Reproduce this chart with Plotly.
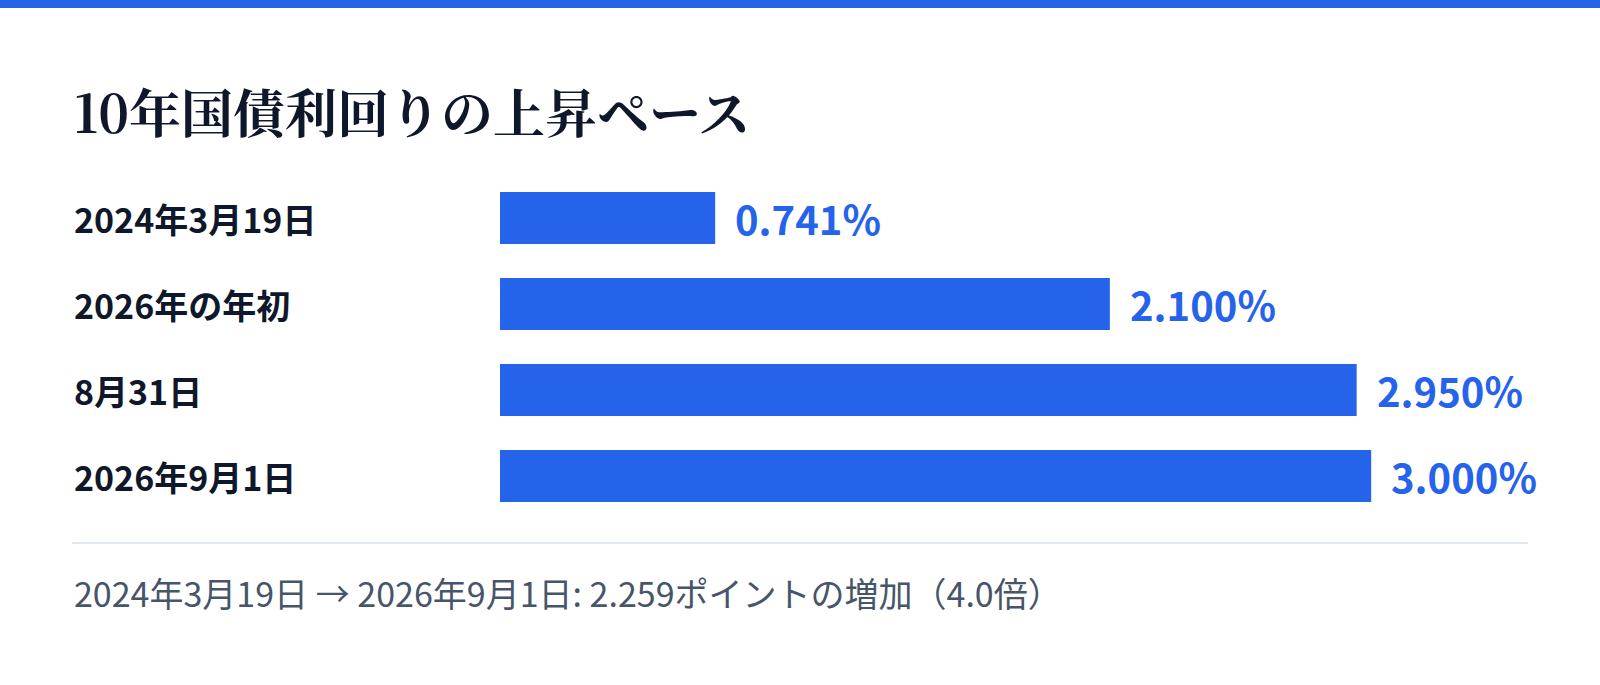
import plotly.graph_objects as go

# Data
dates = ['2024年3月19日', '2026年の年初', '8月31日', '2026年9月1日']
yields = [0.741, 2.100, 2.950, 3.000]
value_labels = ['0.741%', '2.100%', '2.950%', '3.000%']

title_text = '10年国債利回りの上昇ペース'
start_label = '2024年3月19日'
end_label = '2026年9月1日'

blue = '#2563eb'
navy = '#0f172a'
slate = '#475569'
sans = 'Noto Sans CJK JP, Noto Sans, sans-serif'

# Figure geometry (pixels)
W_FIG, H_FIG = 1600, 685
L, R, T, B = 500, 1528, 175, 519


def px_x(x):
    return (x - L) / (R - L)


def px_y(y):
    return (B - y) / (B - T)


fig = go.Figure()

fig.add_trace(go.Bar(
    x=yields,
    y=dates,
    orientation='h',
    marker=dict(color=blue, line=dict(width=0)),
    hoverinfo='skip',
))

annotations = []

# Category labels, left aligned at the card padding
for d in dates:
    annotations.append(dict(
        x=px_x(72), xref='paper', y=d, yref='y',
        text=d, showarrow=False, xanchor='left', yanchor='middle',
        font=dict(family=sans, size=34, color=navy, weight=700),
    ))

# Value labels just past each bar
for v, d, lab in zip(yields, dates, value_labels):
    annotations.append(dict(
        x=v, xref='x', y=d, yref='y',
        text=lab, showarrow=False, xanchor='left', yanchor='middle',
        xshift=18,
        font=dict(family=sans, size=40, color=blue, weight=700),
    ))

# Title
annotations.append(dict(
    x=px_x(72), xref='paper', y=px_y(110), yref='paper',
    text=title_text, showarrow=False, xanchor='left', yanchor='middle',
    font=dict(family='Noto Serif CJK JP, Liberation Serif, Noto Sans CJK JP, serif',
              size=52, color=navy, weight=700),
))

# Footer summary
diff = yields[-1] - yields[0]
ratio = yields[-1] / yields[0]
footer = f'{start_label} → {end_label}: {diff:.3f}ポイントの増加（{ratio:.1f}倍）'
annotations.append(dict(
    x=px_x(72), xref='paper', y=px_y(592), yref='paper',
    text=footer, showarrow=False, xanchor='left', yanchor='middle',
    font=dict(family=sans, size=34, color=slate),
))

shapes = [
    # top accent band
    dict(type='rect', xref='paper', yref='paper',
         x0=px_x(0), x1=px_x(W_FIG), y0=px_y(0), y1=px_y(8),
         fillcolor=blue, line=dict(width=0), layer='above'),
    # divider
    dict(type='line', xref='paper', yref='paper',
         x0=px_x(72), x1=px_x(1528), y0=px_y(543), y1=px_y(543),
         line=dict(color='#e2e8f0', width=2)),
]

fig.update_layout(
    width=W_FIG,
    height=H_FIG,
    margin=dict(l=L, r=W_FIG - R, t=T, b=H_FIG - B, pad=0),
    paper_bgcolor='white',
    plot_bgcolor='white',
    showlegend=False,
    bargap=0.395,
    xaxis=dict(range=[0, max(yields) * 1.18], visible=False, fixedrange=True),
    yaxis=dict(categoryorder='array', categoryarray=dates,
               range=[len(dates) - 0.5, -0.5], visible=False, fixedrange=True),
    annotations=annotations,
    shapes=shapes,
)

fig.write_html('out.html', config={'displayModeBar': False},
               post_script="document.body.style.margin='0';")
